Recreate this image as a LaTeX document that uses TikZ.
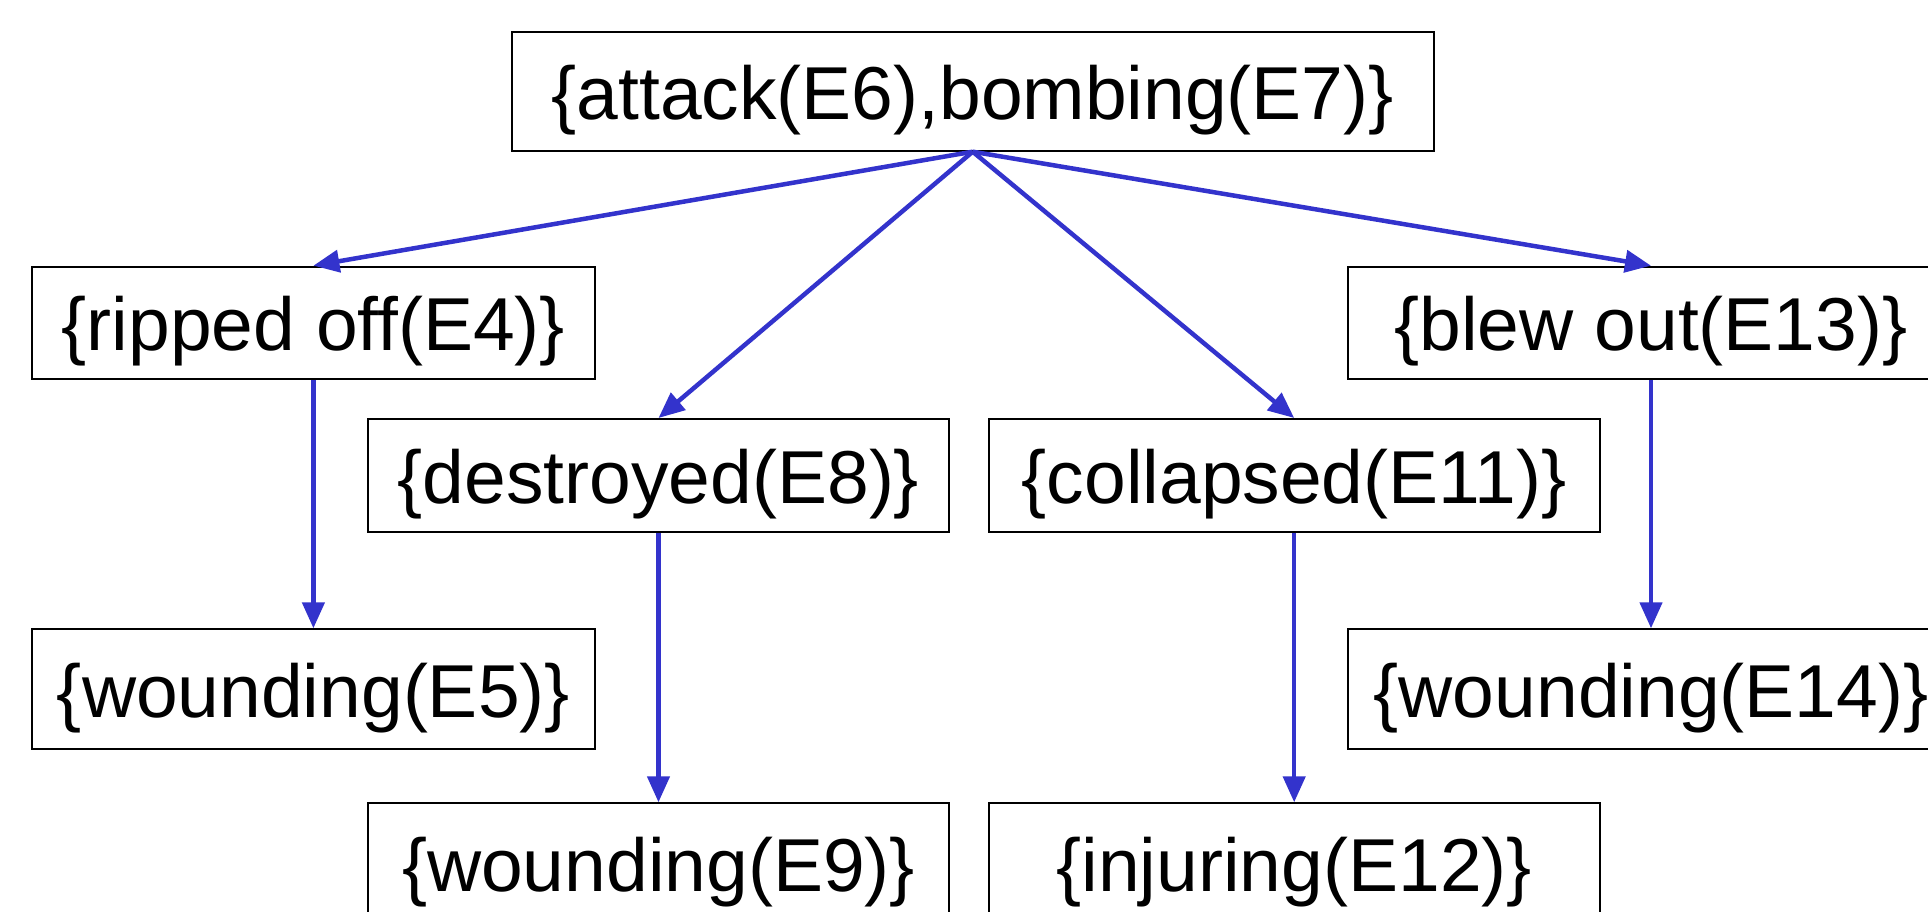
\documentclass[tikz,border=0pt]{standalone}
\usepackage{fontspec}
\setmainfont{Liberation Sans}
\usetikzlibrary{arrows.meta}
\definecolor{arrblue}{RGB}{51,51,204}
\begin{document}
\begin{tikzpicture}[x=1pt,y=-1pt,
  evbox/.style={draw=black, line width=2pt, fill=white, inner sep=0pt,
    text height=60pt, text depth=4pt, font=\fontsize{75}{90}\selectfont},
  arr/.style={draw=arrblue, line width=4.5pt, -{Triangle[length=26pt,width=22pt]}}]
\clip (0,0) rectangle (1928,911);
\fill[white] (0,0) rectangle (1928,911);
\node[evbox, minimum width=922pt, minimum height=118.4pt] (T) at (972.7,91.5) {\{attack(E6),bombing(E7)\}};
\node[evbox, minimum width=563.3pt, minimum height=112.3pt] (R) at (313.4,322.8) {\{ripped off(E4)\}};
\node[evbox, minimum width=607pt, minimum height=112.3pt] (B) at (1651,322.8) {\{blew out(E13)\}};
\node[evbox, minimum width=581.6pt, minimum height=113pt] (D) at (658.5,475.5) {\{destroyed(E8)\}};
\node[evbox, minimum width=611pt, minimum height=113pt] (C) at (1294.2,475.5) {\{collapsed(E11)\}};
\node[evbox, minimum width=563.3pt, minimum height=120pt] (W5) at (313.4,689.3) {\{wounding(E5)\}};
\node[evbox, minimum width=607pt, minimum height=120pt] (W14) at (1651,689.3) {\{wounding(E14)\}};
\node[evbox, minimum width=581.6pt, minimum height=120pt] (W9) at (658.5,863.3) {\{wounding(E9)\}};
\node[evbox, minimum width=611pt, minimum height=120pt] (W12) at (1294.2,863.3) {\{injuring(E12)\}};
\draw[arr] (T.south) -- (R.north);
\draw[arr] (T.south) -- (D.north);
\draw[arr] (T.south) -- (C.north);
\draw[arr] (T.south) -- (B.north);
\draw[arr] (R.south) -- (W5.north);
\draw[arr] (D.south) -- (W9.north);
\draw[arr] (C.south) -- (W12.north);
\draw[arr] (B.south) -- (W14.north);
\end{tikzpicture}
\end{document}
